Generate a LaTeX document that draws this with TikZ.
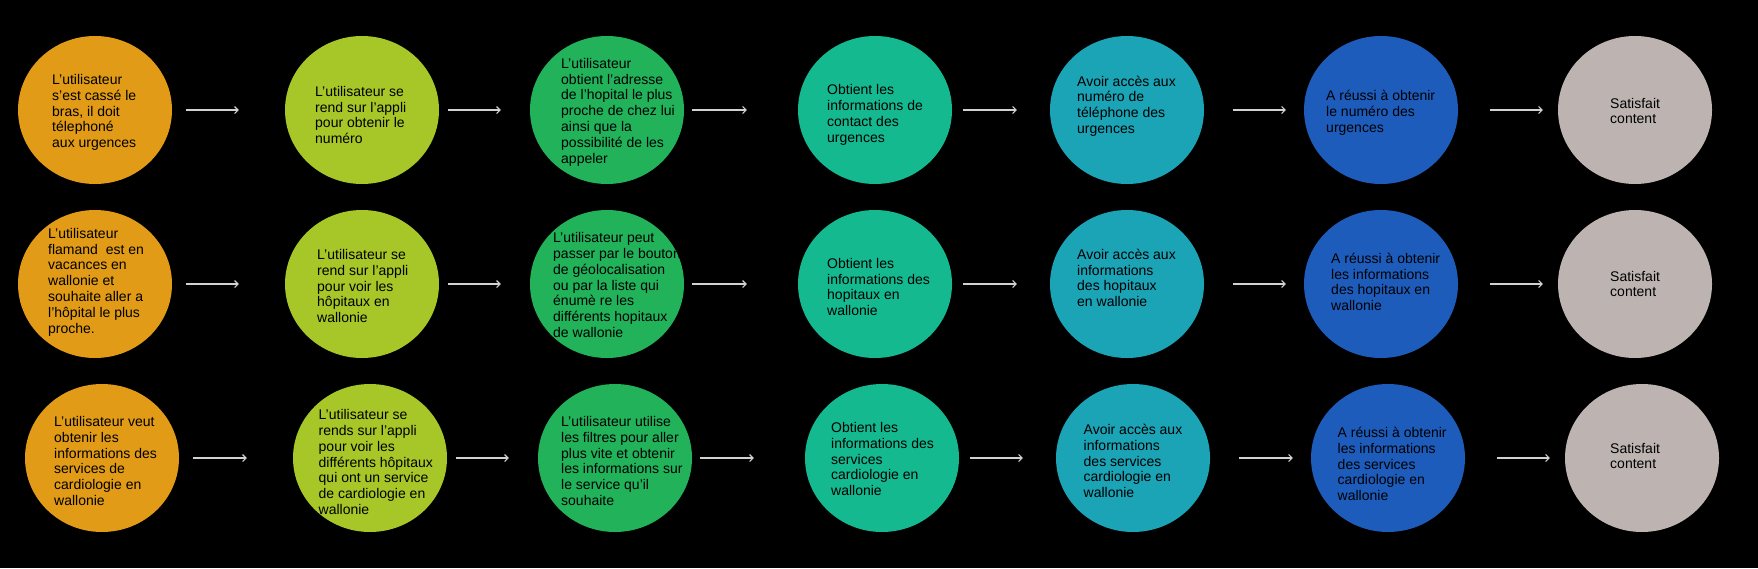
\documentclass[tikz,border=0pt]{standalone}
\usepackage{fontspec}
\setmainfont{Liberation Sans}
\usetikzlibrary{arrows.meta,shapes.geometric,calc}
\definecolor{corange}{HTML}{E19B16}
\definecolor{clime}{HTML}{A7C628}
\definecolor{cgreen}{HTML}{21B25A}
\definecolor{cteal}{HTML}{14B98F}
\definecolor{ccyan}{HTML}{1BA3B6}
\definecolor{cblue}{HTML}{1E5CBB}
\definecolor{cgrey}{HTML}{BDB4B2}
\begin{document}
\begin{tikzpicture}[x=1pt,y=-1pt,
  bubble/.style={ellipse, minimum width=154pt, minimum height=148pt, inner sep=0pt, draw=none},
  txt/.style={anchor=west, align=left, inner sep=0pt, font=\fontsize{14pt}{15.8pt}\selectfont, text=black},
  arr/.style={draw=white!82!black, line width=1.1pt, -{Straight Barb[length=3.5pt,width=7pt]}}]
\fill[black] (0,0) rectangle (1758,568);
\useasboundingbox (0,0) rectangle (1758,568);

% Row 1
\node[bubble, fill=corange] (c11) at (95,110) {};
\node[bubble, fill=clime]   (c12) at (362,110) {};
\node[bubble, fill=cgreen]  (c13) at (607,110) {};
\node[bubble, fill=cteal]   (c14) at (875,110) {};
\node[bubble, fill=ccyan]   (c15) at (1127,110) {};
\node[bubble, fill=cblue]   (c16) at (1381,110) {};
\node[bubble, fill=cgrey]   (c17) at (1635,110) {};
% Row 2
\node[bubble, fill=corange] (c21) at (95,284) {};
\node[bubble, fill=clime]   (c22) at (362,284) {};
\node[bubble, fill=cgreen]  (c23) at (607,284) {};
\node[bubble, fill=cteal]   (c24) at (875,284) {};
\node[bubble, fill=ccyan]   (c25) at (1127,284) {};
\node[bubble, fill=cblue]   (c26) at (1381,284) {};
\node[bubble, fill=cgrey]   (c27) at (1635,284) {};
% Row 3
\node[bubble, fill=corange] (c31) at (102,458) {};
\node[bubble, fill=clime]   (c32) at (370,458) {};
\node[bubble, fill=cgreen]  (c33) at (615,458) {};
\node[bubble, fill=cteal]   (c34) at (882,458) {};
\node[bubble, fill=ccyan]   (c35) at (1133,458) {};
\node[bubble, fill=cblue]   (c36) at (1388,458) {};
\node[bubble, fill=cgrey]   (c37) at (1642,458) {};

% Texts row 1
\node[txt] (t11) at ($(c11)+(-43,2.5)$) {L’utilisateur\\s’est cassé le\\bras, il doit\\télephoné\\aux urgences};
\node[txt] (t12) at ($(c12)+(-47,5)$) {L’utilisateur se\\rend sur l’appli\\pour obtenir le\\numéro};
\node[txt] (t13) at ($(c13)+(-46,2)$) {L’utilisateur\\obtient l’adresse\\de l’hopital le plus\\proche de chez lui\\ainsi que la\\possibilité de les\\appeler};
\node[txt] (t14) at ($(c14)+(-48,5)$) {Obtient les\\informations de\\contact des\\urgences};
\node[txt] (t15) at ($(c15)+(-50,-4)$) {Avoir accès aux\\numéro de\\téléphone des\\urgences};
\node[txt] (t16) at ($(c16)+(-55,3)$) {A réussi à obtenir\\le numéro des\\urgences};
\node[txt] (t17) at ($(c17)+(-25,1)$) {Satisfait\\content};
% Texts row 2
\node[txt] (t21) at ($(c21)+(-47,-2)$) {L’utilisateur\\flamand\ \ est en\\vacances en\\wallonie et\\souhaite aller a\\l’hôpital le plus\\proche.};
\node[txt] (t22) at ($(c22)+(-45,2)$) {L’utilisateur se\\rend sur l’appli\\pour voir les\\hôpitaux en\\wallonie};
\node[txt] (t23) at ($(c23)+(-54,1)$) {L’utilisateur peut\\passer par le bouton\\de géolocalisation\\ou par la liste qui\\énumè re les\\différents hopitaux\\de wallonie};
\node[txt] (t24) at ($(c24)+(-48,3)$) {Obtient les\\informations des\\hopitaux en\\wallonie};
\node[txt] (t25) at ($(c25)+(-50,-6)$) {Avoir accès aux\\informations\\des hopitaux\\en wallonie};
\node[txt] (t26) at ($(c26)+(-50,-2)$) {A réussi à obtenir\\les informations\\des hopitaux en\\wallonie};
\node[txt] (t27) at ($(c27)+(-25,0)$) {Satisfait\\content};
% Texts row 3
\node[txt] (t31) at ($(c31)+(-48,3)$) {L’utilisateur veut\\obtenir les\\informations des\\services de\\cardiologie en\\wallonie};
\node[txt] (t32) at ($(c32)+(-51.5,4)$) {L’utilisateur se\\rends sur l’appli\\pour voir les\\différents hôpitaux\\qui ont un service\\de cardiologie en\\wallonie};
\node[txt] (t33) at ($(c33)+(-54,3)$) {L’utilisateur utilise\\les filtres pour aller\\plus vite et obtenir\\les informations sur\\le service qu’il\\souhaite};
\node[txt] (t34) at ($(c34)+(-51,1)$) {Obtient les\\informations des\\services\\cardiologie en\\wallonie};
\node[txt] (t35) at ($(c35)+(-49.5,3)$) {Avoir accès aux\\informations\\des services\\cardiologie en\\wallonie};
\node[txt] (t36) at ($(c36)+(-50.5,6)$) {A réussi à obtenir\\les informations\\des services\\cardiologie en\\wallonie};
\node[txt] (t37) at ($(c37)+(-32,-2)$) {Satisfait\\content};

% Arrows
\foreach \r in {1,2,3}{
  \foreach \a/\b/\s/\e in {1/2/14/46, 2/3/9/29, 3/4/8/51, 4/5/11/33, 5/6/29/18, 6/7/32/15}{
    \draw[arr] ([xshift=\s pt]c\r\a.east) -- ([xshift=-\e pt]c\r\b.west);
  }
}
\end{tikzpicture}
\end{document}
